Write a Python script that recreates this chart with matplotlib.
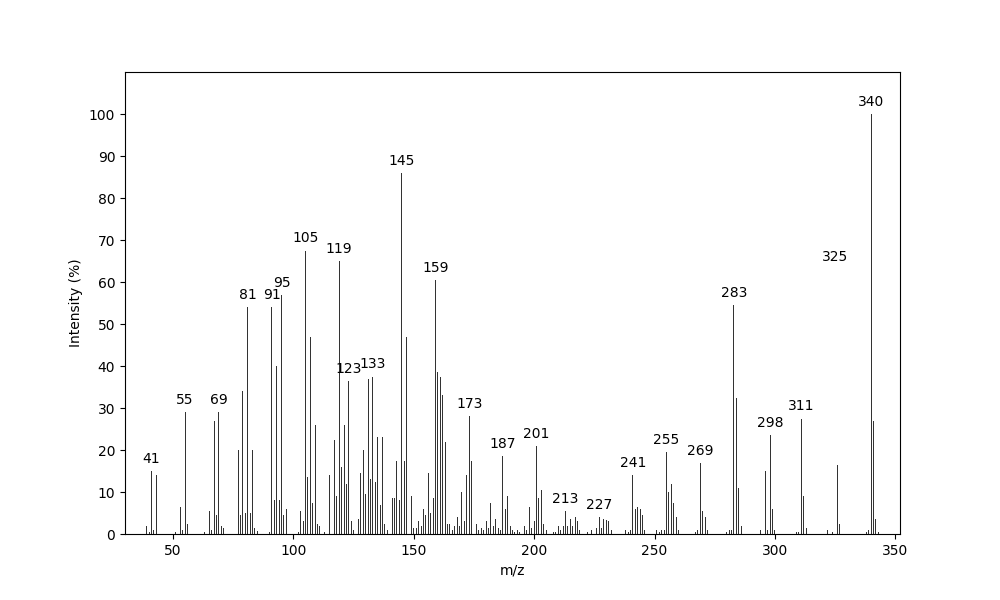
import numpy as np
import matplotlib
matplotlib.use("Agg")
import matplotlib.pyplot as plt

# m/z and relative intensity (%)
mz = [39, 40, 41, 42, 43, 51, 53, 54, 55, 56, 57, 63, 65, 66, 67, 68, 69, 70, 71,
      77, 78, 79, 80, 81, 82, 83, 84, 85, 89, 90, 91, 92, 93, 94, 95, 96, 97,
      102, 103, 104, 105, 106, 107, 108, 109, 110, 111, 113, 115, 116, 117, 118,
      119, 120, 121, 122, 123, 124, 125, 127, 128, 129, 130, 131, 132, 133, 134,
      135, 136, 137, 138, 139, 141, 142, 143, 144, 145, 146, 147, 148, 149, 150,
      151, 152, 153, 154, 155, 156, 157, 158, 159, 160, 161, 162, 163, 164, 165,
      166, 167, 168, 169, 170, 171, 172, 173, 174, 175, 176, 177, 178, 179, 180,
      181, 182, 183, 184, 185, 186, 187, 188, 189, 190, 191, 192, 193, 194, 196,
      197, 198, 199, 200, 201, 202, 203, 204, 205, 208, 209, 210, 211, 212, 213,
      214, 215, 216, 217, 218, 219, 222, 224, 226, 227, 228, 229, 230, 231, 232,
      238, 239, 240, 241, 242, 243, 244, 245, 246, 251, 252, 253, 254, 255, 256,
      257, 258, 259, 260, 267, 268, 269, 270, 271, 272, 280, 281, 282, 283, 284,
      285, 286, 294, 296, 297, 298, 299, 300, 309, 310, 311, 312, 313, 322, 324,
      325, 326, 327, 338, 339, 340, 341, 342, 343]
intensity = [2, 0.5, 15, 1, 14, 0.5, 6.5, 1, 29, 2.5, 6, 0.5, 5.5, 1, 27, 4.5, 29, 2, 1.5,
             20, 4.5, 34, 5, 54, 5, 20, 1.5, 0.8, 0.8, 0.5, 54, 8, 40, 8, 57, 4.5, 6,
             0.5, 5.5, 3, 67.5, 13.5, 47, 7.5, 26, 2.5, 2, 0.5, 14, 7, 22.5, 9,
             65, 16, 26, 12, 36.5, 3, 1, 3.5, 14.5, 20, 9.5, 37, 13, 37.5, 12.5,
             23, 7, 23, 2.5, 1, 8.5, 8.5, 17.5, 8, 86, 17.5, 47, 11.5, 9, 1.5,
             1.5, 3, 2, 6, 4.5, 14.5, 5, 8.5, 60.5, 38.5, 37.5, 33, 22, 2.5, 2.5,
             1, 2, 4, 2, 10, 3, 14, 28, 17.5, 3.5, 2.5, 1, 1.5, 1, 3,
             1.5, 7.5, 2, 3.5, 1.5, 1, 18.5, 6, 9, 2, 1, 0.5, 1, 0.5, 2,
             1, 6.5, 1.5, 3, 21, 8.5, 10.5, 2.5, 1, 0.5, 0.5, 2, 1, 2, 5.5,
             2, 3.5, 2, 4, 3, 1, 0.5, 1, 1.5, 4, 1.5, 3.5, 3.3, 3, 1,
             1, 0.5, 1, 14, 6, 6.5, 6, 4.5, 1, 1, 0.5, 1, 1, 19.5, 10,
             12, 7.5, 4, 1, 0.5, 1, 17, 5.5, 4, 1, 0.5, 1, 1, 54.5, 32.5,
             11, 2, 1, 15, 1, 23.5, 6, 1, 0.5, 0.5, 27.5, 9, 1.5, 1, 0.5,
             63, 16.5, 2.5, 0.5, 1, 100, 27, 3.5, 0.5]
labeled = [41, 55, 69, 81, 91, 95, 105, 119, 123, 133, 145, 159, 173, 187,
           201, 213, 227, 241, 255, 269, 283, 298, 311, 325, 340]

fig, ax = plt.subplots(figsize=(10, 6), dpi=100)
ax.bar(mz, intensity, width=0.4, color="#333333")
lookup = dict(zip(mz, intensity))
for m in labeled:
    ax.text(m, lookup[m] + 1.2, str(m), ha="center", va="bottom", fontsize=10)

ax.set_xlim(30, 352)
ax.set_ylim(0, 110)
ax.set_yticks(np.arange(0, 101, 10))
ax.set_xlabel("m/z")
ax.set_ylabel("Intensity (%)")
fig.savefig("out.png")
